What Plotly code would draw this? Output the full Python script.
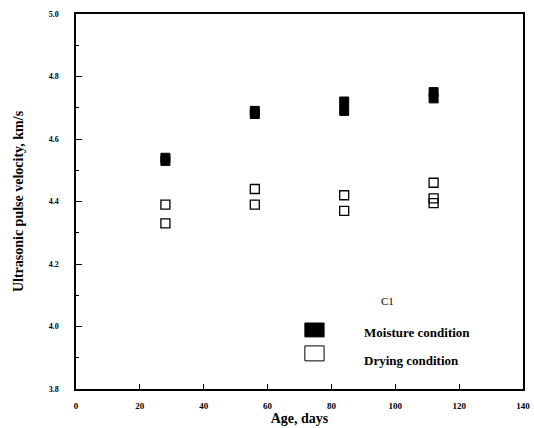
import plotly.graph_objects as go

# Data
moist_age = [28, 28, 56, 56, 84, 84, 112, 112]
moist_vel = [4.54, 4.53, 4.69, 4.68, 4.72, 4.69, 4.75, 4.73]
dry_age = [28, 28, 56, 56, 84, 84, 112, 112, 112]
dry_vel = [4.39, 4.33, 4.44, 4.39, 4.42, 4.37, 4.46, 4.41, 4.395]

x_ticks = [0, 20, 40, 60, 80, 100, 120, 140]
y_ticks = [3.8, 4.0, 4.2, 4.4, 4.6, 4.8, 5.0]
y_ticktext = ["3.8", "4.0", "4.2", "4.4", "4.6", "4.8", "5.0"]

SERIF = "Liberation Serif, DejaVu Serif, serif"

fig = go.Figure()
fig.add_trace(go.Scatter(x=moist_age, y=moist_vel, mode="markers", name="Moisture condition",
                         marker=dict(symbol="square", size=9, color="black",
                                     line=dict(color="black", width=1)),
                         showlegend=False))
fig.add_trace(go.Scatter(x=dry_age, y=dry_vel, mode="markers", name="Drying condition",
                         marker=dict(symbol="square-open", size=9, color="black",
                                     line=dict(color="black", width=1.3)),
                         showlegend=False))

# Manual legend (paper coordinates)
fig.add_shape(type="rect", xref="paper", yref="paper", x0=0.512, x1=0.555, y0=0.139, y1=0.176,
              fillcolor="black", line=dict(color="black", width=1))
fig.add_shape(type="rect", xref="paper", yref="paper", x0=0.512, x1=0.555, y0=0.075, y1=0.115,
              fillcolor="white", line=dict(color="black", width=1))
fig.add_annotation(text="Moisture condition", xref="paper", yref="paper", x=0.640, y=0.152,
                   xanchor="left", yanchor="middle", showarrow=False,
                   font=dict(family=SERIF, size=13, color="black", weight="bold"))
fig.add_annotation(text="Drying condition", xref="paper", yref="paper", x=0.640, y=0.077,
                   xanchor="left", yanchor="middle", showarrow=False,
                   font=dict(family=SERIF, size=13, color="black", weight="bold"))
fig.add_annotation(text="C1", xref="paper", yref="paper", x=0.697, y=0.235,
                   xanchor="center", yanchor="middle", showarrow=False,
                   font=dict(family=SERIF, size=11, color="black"))

fig.update_layout(
    width=534, height=428,
    margin=dict(l=76, r=11, t=14, b=39),
    paper_bgcolor="white", plot_bgcolor="white",
    showlegend=False,
    font=dict(family=SERIF, color="black"),
)
fig.update_xaxes(
    range=[0, 140], tickvals=x_ticks, ticks="inside", ticklen=5, tickwidth=1,
    tickcolor="black", showline=True, linecolor="black", linewidth=1.5, mirror=True,
    showgrid=False, zeroline=False, automargin=False,
    tickfont=dict(family=SERIF, size=9, color="black", weight="bold"),
    ticklabelstandoff=7,
    title=dict(text="Age, days", standoff=2,
               font=dict(family=SERIF, size=14, color="black", weight="bold")),
)
fig.update_yaxes(
    range=[3.8, 5.0], tickvals=y_ticks, ticktext=y_ticktext, ticks="inside", ticklen=6,
    tickwidth=1, tickcolor="black", showline=True, linecolor="black", linewidth=1.5,
    mirror=True, showgrid=False, zeroline=False, automargin=False,
    minor=dict(ticks="inside", ticklen=3, dtick=0.1, tickcolor="black", showgrid=False),
    tickfont=dict(family=SERIF, size=8, color="black", weight="bold"),
    ticklabelstandoff=14,
    title=dict(text="Ultrasonic pulse velocity, km/s", standoff=22,
               font=dict(family=SERIF, size=14, color="black", weight="bold")),
)

fig.write_html("out.html")
